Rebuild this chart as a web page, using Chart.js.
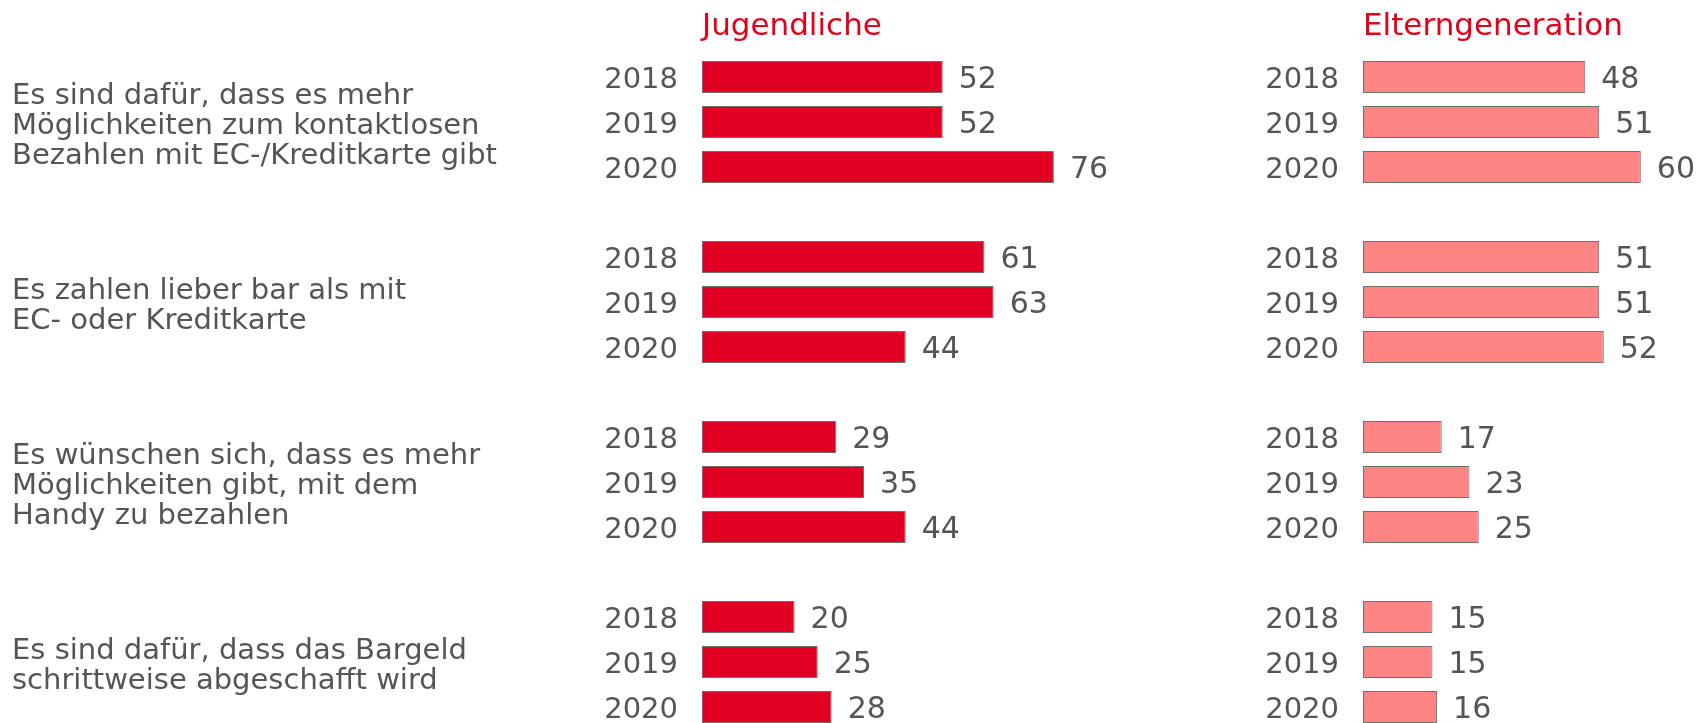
<!DOCTYPE html>
<html>
<head>
<meta charset="utf-8">
<script src="https://cdn.jsdelivr.net/npm/chart.js@4"></script>
<style>
  html, body { margin: 0; padding: 0; background: #fff; overflow: hidden; }
  #wrap { position: relative; width: 1707px; height: 723px; overflow: hidden; }
  canvas { position: absolute; top: 0; }
  #leftChart { left: 0; }
  #rightChart { left: 1180px; }
</style>
</head>
<body>
<div id="wrap">
  <canvas id="leftChart" width="1180" height="790"></canvas>
  <canvas id="rightChart" width="527" height="790"></canvas>
</div>
<script>
// daten
var years = ["2018", "2019", "2020"];
var statements = [
    ["Es sind dafür, dass es mehr", "Möglichkeiten zum kontaktlosen", "Bezahlen mit EC-/Kreditkarte gibt"],
    ["Es zahlen lieber bar als mit", "EC- oder Kreditkarte"],
    ["Es wünschen sich, dass es mehr", "Möglichkeiten gibt, mit dem", "Handy zu bezahlen"],
    ["Es sind dafür, dass das Bargeld", "schrittweise abgeschafft wird"]
];
var jugendliche = [[52, 52, 76], [61, 63, 44], [29, 35, 44], [20, 25, 28]];
var elterngeneration = [[48, 51, 60], [51, 51, 52], [17, 23, 25], [15, 15, 16]];
var panelTitles = ["Jugendliche", "Elterngeneration"];

var textColor = "#555555";
var fontFamily = "'DejaVu Sans', Verdana, sans-serif";

// labels mit Lücke zwischen den Gruppen
var rowLabels = [];
for (var g = 0; g < statements.length; g++) {
    for (var y = 0; y < years.length; y++) rowLabels.push(years[y]);
    if (g < statements.length - 1) rowLabels.push("");
}
function flatten(groups) {
    var out = [];
    for (var g = 0; g < groups.length; g++) {
        for (var i = 0; i < groups[g].length; i++) out.push(groups[g][i]);
        if (g < groups.length - 1) out.push(null);
    }
    return out;
}

var valueLabels = {
    id: "valueLabels",
    afterDatasetsDraw: function (chart) {
        var ctx = chart.ctx;
        var meta = chart.getDatasetMeta(0);
        var data = chart.data.datasets[0].data;
        ctx.save();
        ctx.font = "30px " + fontFamily;
        ctx.fillStyle = textColor;
        ctx.textAlign = "left";
        ctx.textBaseline = "middle";
        meta.data.forEach(function (bar, i) {
            if (data[i] == null) return;
            ctx.fillText(String(data[i]), bar.x + 16, bar.y + 3);
        });
        ctx.restore();
    }
};

var panelTitle = {
    id: "panelTitle",
    afterDraw: function (chart, args, opts) {
        var ctx = chart.ctx;
        ctx.save();
        ctx.font = "31px " + fontFamily;
        ctx.fillStyle = "#E2001A";
        ctx.textAlign = "left";
        ctx.textBaseline = "alphabetic";
        ctx.fillText(opts.text, chart.chartArea.left, 35);
        ctx.restore();
    }
};

var statementLabels = {
    id: "statementLabels",
    afterDraw: function (chart, args, opts) {
        if (!opts.show) return;
        var ctx = chart.ctx;
        var yScale = chart.scales.y;
        ctx.save();
        ctx.font = "29px " + fontFamily;
        ctx.fillStyle = textColor;
        ctx.textAlign = "left";
        ctx.textBaseline = "middle";
        var lineH = 30;
        for (var g = 0; g < statements.length; g++) {
            var lines = statements[g];
            var cy = yScale.getPixelForValue(g * 4 + 1) + 4;
            var top = cy - (lines.length - 1) * lineH / 2;
            for (var l = 0; l < lines.length; l++) {
                ctx.fillText(lines[l], 12, top + l * lineH);
            }
        }
        ctx.restore();
    }
};

function makeChart(id, values, color, title, axisWidth, xMax, showStatements) {
    var el = document.getElementById(id).getContext("2d");
    return new Chart(el, {
        type: "bar",
        data: {
            labels: rowLabels,
            datasets: [{
                data: flatten(values),
                backgroundColor: color,
                borderColor: "#707070",
                borderWidth: 1,
                borderSkipped: false,
                categoryPercentage: 1,
                barPercentage: 32 / 45
            }]
        },
        options: {
            indexAxis: "y",
            responsive: false,
            animation: false,
            devicePixelRatio: 1,
            layout: { padding: { top: 54.5, bottom: 60.5, left: 0, right: 0 } },
            plugins: {
                legend: { display: false },
                tooltip: { enabled: false },
                panelTitle: { text: title },
                statementLabels: { show: showStatements }
            },
            scales: {
                x: { display: false, min: 0, max: xMax },
                y: {
                    grid: { display: false, drawTicks: false },
                    border: { display: false },
                    ticks: {
                        color: textColor,
                        padding: 24,
                        labelOffset: 3,
                        font: { family: fontFamily, size: 29 },
                        autoSkip: false
                    },
                    afterFit: function (scale) { scale.width = axisWidth; }
                }
            }
        },
        plugins: [valueLabels, panelTitle, statementLabels]
    });
}

makeChart("leftChart", jugendliche, "#E10024", panelTitles[0], 702, (1180 - 702) / 4.63, true);
makeChart("rightChart", elterngeneration, "#FF8585", panelTitles[1], 1363 - 1180, (527 - 183) / 4.63, false);
</script>
</body>
</html>
